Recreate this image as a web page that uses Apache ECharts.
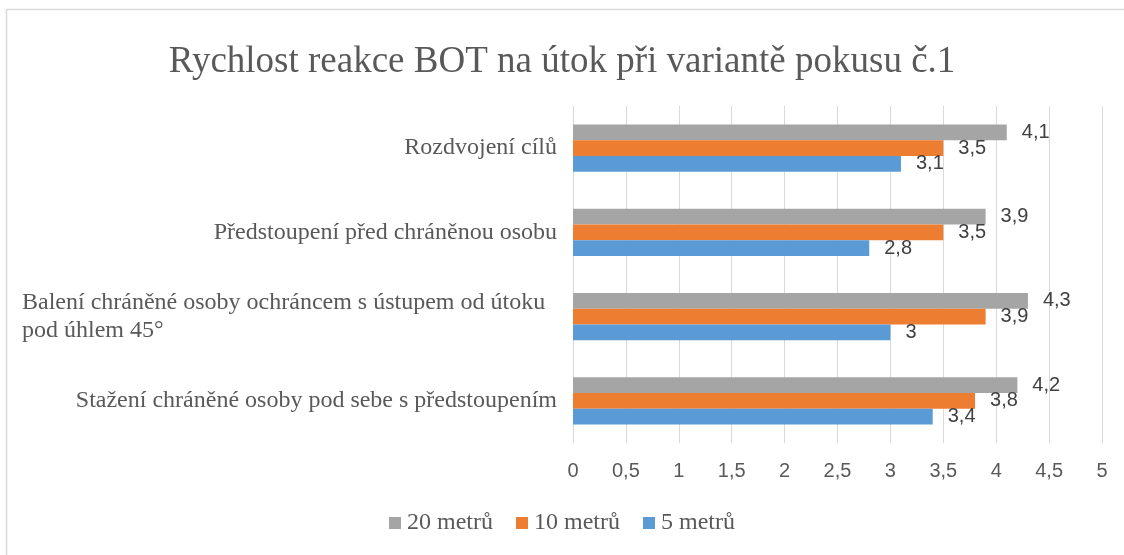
<!DOCTYPE html>
<html>
<head>
<meta charset="utf-8">
<script src="https://cdn.jsdelivr.net/npm/echarts@6/dist/echarts.min.js"></script>
<style>
html, body { margin: 0; padding: 0; background: #fff; }
#chart { width: 1124px; height: 555px; }
</style>
</head>
<body>
<div id="chart"></div>
<script>
// kategorie odspodu nahoru (osa y jde zdola)
var categories = [
    'Stažení chráněné osoby pod sebe s předstoupením',
    'Balení chráněné osoby ochráncem s ústupem od útoku\npod úhlem 45°',
    'Předstoupení před chráněnou osobu',
    'Rozdvojení cílů'
];
var m5 = [3.4, 3, 2.8, 3.1];
var m10 = [3.8, 3.9, 3.5, 3.5];
var m20 = [4.2, 4.3, 3.9, 4.1];
var xTicks = [0, 0.5, 1, 1.5, 2, 2.5, 3, 3.5, 4, 4.5, 5];

var serif = '"Liberation Serif", "Times New Roman", serif';
var sans = '"Liberation Sans", Arial, sans-serif';

function comma(v) {
    return String(v).replace('.', ',');
}

var myChart = echarts.init(document.getElementById('chart'));

var labelStyle = {
    show: true,
    position: 'right',
    distance: 15,
    fontFamily: sans,
    fontSize: 20,
    color: '#404040',
    formatter: function (p) { return comma(p.value); }
};

var option = {
    backgroundColor: '#fff',
    animation: false,
    title: {
        text: 'Rychlost reakce BOT na útok při variantě pokusu č.1',
        left: 'center',
        top: 39,
        textStyle: {
            fontFamily: serif,
            fontWeight: 'normal',
            fontSize: 37,
            color: '#595959'
        }
    },
    //okraj grafu
    graphic: [{
        type: 'rect',
        shape: { x: 6.5, y: 9.5, width: 1130, height: 560 },
        style: { fill: 'none', stroke: '#d9d9d9', lineWidth: 1.5 },
        silent: true
    }],
    legend: {
        bottom: 15,
        left: 'center',
        itemWidth: 12,
        itemHeight: 12,
        itemGap: 23,
        icon: 'rect',
        data: ['20 metrů', '10 metrů', '5 metrů'],
        textStyle: {
            fontFamily: serif,
            fontSize: 24,
            color: '#595959',
            padding: [0, 0, 0, 1]
        }
    },
    grid: {
        left: 573,
        right: 22,
        top: 106,
        bottom: 112,
        containLabel: false
    },
    xAxis: {
        type: 'value',
        min: 0,
        max: 5,
        interval: 0.5,
        axisLine: { show: false },
        axisTick: { show: false },
        splitLine: { show: true, lineStyle: { color: '#d9d9d9', width: 1 } },
        axisLabel: {
            margin: 18,
            fontFamily: sans,
            fontSize: 20,
            color: '#595959',
            formatter: function (v) { return comma(v); }
        }
    },
    yAxis: {
        type: 'category',
        data: categories,
        axisLine: { show: false },
        axisTick: { show: false },
        axisLabel: {
            margin: 16,
            fontFamily: serif,
            fontSize: 24,
            lineHeight: 28,
            color: '#595959',
            formatter: function (v) {
                if (v.indexOf('\n') >= 0) {
                    return v.split('\n').map(function (s) { return '{l|' + s + '}'; }).join('\n');
                }
                return v;
            },
            rich: {
                l: {
                    width: 535,
                    align: 'left',
                    fontFamily: serif,
                    fontSize: 24,
                    lineHeight: 28,
                    color: '#595959'
                }
            }
        }
    },
    // první série je v každé skupině nahoře
    series: [
        {
            name: '20 metrů',
            type: 'bar',
            data: m20,
            barGap: '0%',
            barCategoryGap: '44%',
            itemStyle: { color: '#a5a5a5' },
            label: labelStyle
        },
        {
            name: '10 metrů',
            type: 'bar',
            data: m10,
            barGap: '0%',
            barCategoryGap: '44%',
            itemStyle: { color: '#ed7d31' },
            label: labelStyle
        },
        {
            name: '5 metrů',
            type: 'bar',
            data: m5,
            barGap: '0%',
            barCategoryGap: '44%',
            itemStyle: { color: '#5b9bd5' },
            label: labelStyle
        }
    ]
};

myChart.setOption(option);
</script>
</body>
</html>
